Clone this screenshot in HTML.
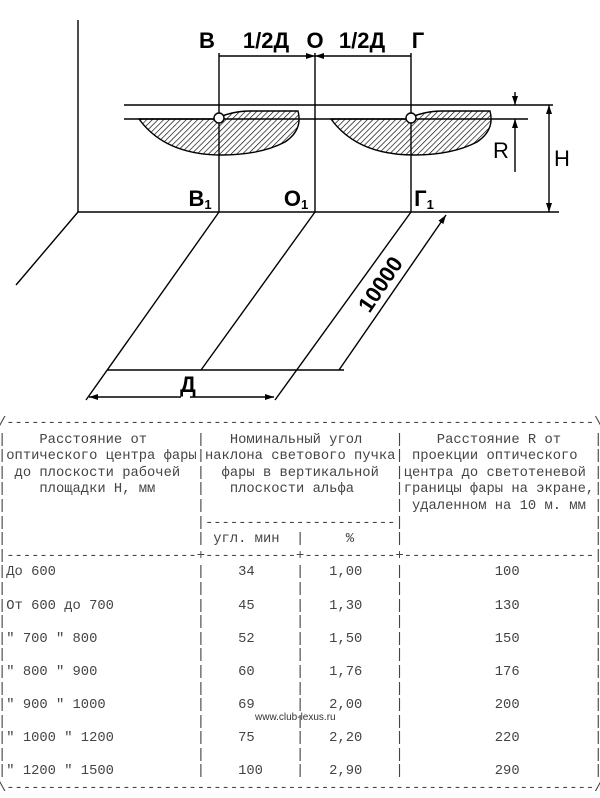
<!DOCTYPE html>
<html><head><meta charset="utf-8"><style>
html,body{margin:0;padding:0;background:#fff;}
body{width:600px;height:790px;position:relative;overflow:hidden;}
svg{position:absolute;left:0;top:0;}
pre{position:absolute;left:-2px;top:416px;margin:0;font-family:"Liberation Mono",monospace;font-size:13.8px;line-height:16.6px;color:#444;}
.wm{position:absolute;left:255px;top:712px;font-family:"Liberation Sans",sans-serif;font-size:10px;color:#333;}
</style></head><body>
<svg width="600" height="410" viewBox="0 0 600 410">
<defs>
<pattern id="h" width="4" height="4" patternUnits="userSpaceOnUse" patternTransform="rotate(45)">
<line x1="0" y1="0" x2="0" y2="4" stroke="#000" stroke-width="1.3"/>
</pattern>
<marker id="a" markerWidth="10" markerHeight="8" refX="9" refY="4" orient="auto" markerUnits="userSpaceOnUse">
<path d="M0,1 L9,4 L0,7 z" fill="#000"/></marker>
</defs>
<g stroke="#000" stroke-width="1.4" fill="none">
<line x1="78" y1="20" x2="78" y2="212"/>
<line x1="78" y1="212" x2="559" y2="212"/>
<line x1="78" y1="212" x2="16" y2="285"/>
<line x1="219" y1="53" x2="219" y2="212"/>
<line x1="315" y1="53" x2="315" y2="212"/>
<line x1="411" y1="53" x2="411" y2="212"/>
<line x1="219" y1="56" x2="315" y2="56" marker-end="url(#a)"/>
<line x1="411" y1="56" x2="315" y2="56" marker-end="url(#a)"/>
<line x1="124" y1="105" x2="553" y2="105"/>
<line x1="124" y1="119" x2="528" y2="119"/>
<path d="M139,119 L215,119 Q232,111 250,111 L298,111 Q303,130 285,142 Q260,155 222,155 Q165,155 139,119 Z" fill="url(#h)"/>
<path d="M331,119 L407,119 Q424,111 442,111 L490,111 Q495,130 477,142 Q452,155 414,155 Q357,155 331,119 Z" fill="url(#h)"/>
<circle cx="219" cy="118" r="5" fill="#fff"/>
<circle cx="411" cy="118" r="5" fill="#fff"/>
<line x1="515" y1="92" x2="515" y2="105" marker-end="url(#a)"/>
<line x1="515" y1="172" x2="515" y2="119" marker-end="url(#a)"/>
<line x1="549" y1="160" x2="549" y2="105" marker-end="url(#a)"/>
<line x1="549" y1="160" x2="549" y2="212" marker-end="url(#a)"/>
<line x1="219" y1="212" x2="86" y2="400"/>
<line x1="315" y1="212" x2="201" y2="370"/>
<line x1="411" y1="212" x2="275" y2="400"/>
<line x1="107" y1="370" x2="344" y2="370"/>
<line x1="339" y1="370" x2="446" y2="215" marker-end="url(#a)"/>
<line x1="181" y1="397" x2="89" y2="397" marker-end="url(#a)"/>
<line x1="190" y1="397" x2="274" y2="397" marker-end="url(#a)"/>
</g>
<g font-family="Liberation Sans,sans-serif" font-size="22" fill="#000" font-weight="bold">
<text x="207" y="48" text-anchor="middle">В</text>
<text x="266" y="48" text-anchor="middle">1/2Д</text>
<text x="315" y="48" text-anchor="middle">О</text>
<text x="362" y="48" text-anchor="middle">1/2Д</text>
<text x="418" y="48" text-anchor="middle">Г</text>
<text x="200" y="206" text-anchor="middle">В<tspan font-size="13" dy="3">1</tspan></text>
<text x="296" y="206" text-anchor="middle">О<tspan font-size="13" dy="3">1</tspan></text>
<text x="424" y="206" text-anchor="middle">Г<tspan font-size="13" dy="3">1</tspan></text>
<text x="188" y="392" text-anchor="middle">Д</text>
<text x="380" y="292" text-anchor="middle" transform="rotate(-56 380 284)">10000</text>
</g>
<g font-family="Liberation Sans,sans-serif" font-size="22" fill="#000">
<text x="501" y="158" text-anchor="middle">R</text>
<text x="562" y="166" text-anchor="middle">H</text>
</g>
</svg>
<pre>/-----------------------------------------------------------------------\
|    Расстояние от      |   Номинальный угол    |    Расстояние R от    |
|оптического центра фары|наклона светового пучка| проекции оптического  |
| до плоскости рабочей  |  фары в вертикальной  |центра до светотеневой |
|    площадки Н, мм     |   плоскости альфа     |границы фары на экране,|
|                       |                       | удаленном на 10 м. мм |
|                       |-----------------------|                       |
|                       | угл. мин  |     %     |                       |
|-----------------------+-----------+-----------+-----------------------|
|До 600                 |    34     |   1,00    |           100         |
|                       |           |           |                       |
|От 600 до 700          |    45     |   1,30    |           130         |
|                       |           |           |                       |
|" 700 " 800            |    52     |   1,50    |           150         |
|                       |           |           |                       |
|" 800 " 900            |    60     |   1,76    |           176         |
|                       |           |           |                       |
|" 900 " 1000           |    69     |   2,00    |           200         |
|                       |           |           |                       |
|" 1000 " 1200          |    75     |   2,20    |           220         |
|                       |           |           |                       |
|" 1200 " 1500          |    100    |   2,90    |           290         |
\-----------------------------------------------------------------------/</pre>
<div class="wm">www.club-lexus.ru</div>
</body></html>
